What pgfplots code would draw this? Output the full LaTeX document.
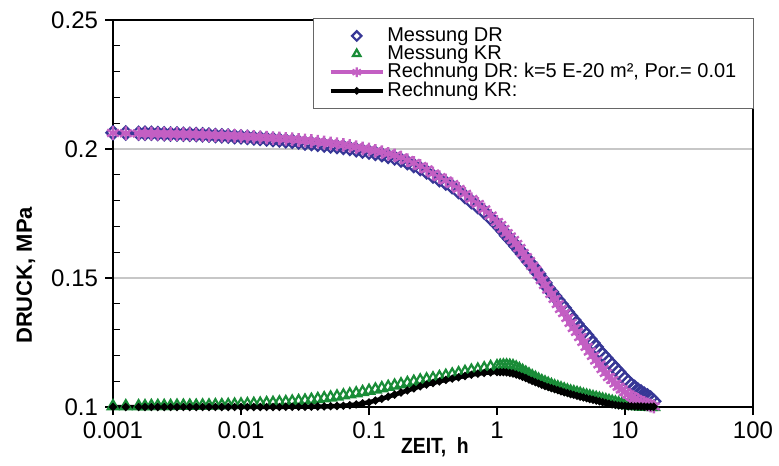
\documentclass[border=0pt]{standalone}
\usepackage{fontspec}
\setmainfont{Liberation Sans}
\usepackage{graphicx}
\usepackage{pgfplots}
\usepackage{pgfplotstable}
\pgfplotsset{compat=1.18}
\definecolor{mdr}{RGB}{55,55,150}
\definecolor{mkr}{RGB}{25,140,55}
\definecolor{rdr}{RGB}{195,95,195}
\pgfplotstableread{
t dr kr rdr rkr
0.001 0.2063 0.1003 0.2062 0.1000
1.2589e-3 0.2062 0.1003 0.2061 0.1000
1.5849e-3 0.2061 0.1003 0.2060 0.1000
1.7783e-3 0.2061 0.1003 0.2060 0.1000
1.9953e-3 0.2061 0.1004 0.2060 0.1000
2.2387e-3 0.2060 0.1004 0.2059 0.1000
2.5119e-3 0.2059 0.1004 0.2059 0.1000
2.8184e-3 0.2058 0.1004 0.2058 0.1000
3.1623e-3 0.2058 0.1005 0.2058 0.1000
3.5481e-3 0.2057 0.1005 0.2057 0.1000
3.9811e-3 0.2057 0.1005 0.2057 0.1000
4.4668e-3 0.2056 0.1005 0.2056 0.1000
5.0119e-3 0.2055 0.1006 0.2055 0.1000
5.6234e-3 0.2054 0.1006 0.2054 0.1000
6.3096e-3 0.2052 0.1007 0.2053 0.1000
7.0795e-3 0.2051 0.1007 0.2052 0.1000
7.9433e-3 0.2050 0.1008 0.2052 0.1000
8.9125e-3 0.2048 0.1009 0.2051 0.1000
0.01 0.2047 0.1010 0.2050 0.1000
1.1220e-2 0.2045 0.1011 0.2048 0.1000
1.2589e-2 0.2043 0.1012 0.2047 0.1000
1.4125e-2 0.2041 0.1013 0.2045 0.1000
1.5849e-2 0.2039 0.1015 0.2044 0.1000
1.7783e-2 0.2037 0.1016 0.2042 0.1000
1.9953e-2 0.2035 0.1018 0.2041 0.1000
2.2387e-2 0.2032 0.1019 0.2039 0.1001
2.5119e-2 0.2030 0.1021 0.2038 0.1001
2.8184e-2 0.2027 0.1023 0.2035 0.1001
3.1623e-2 0.2023 0.1025 0.2033 0.1001
3.5481e-2 0.2021 0.1028 0.2031 0.1001
3.9811e-2 0.2018 0.1031 0.2028 0.1002
4.4668e-2 0.2015 0.1034 0.2025 0.1002
5.0119e-2 0.2012 0.1037 0.2022 0.1003
5.6234e-2 0.2009 0.1041 0.2019 0.1004
6.3096e-2 0.2006 0.1045 0.2016 0.1005
7.0795e-2 0.2002 0.1049 0.2012 0.1007
7.9433e-2 0.1997 0.1053 0.2007 0.1010
8.9125e-2 0.1992 0.1058 0.2002 0.1014
0.1 0.1988 0.1063 0.1998 0.1018
0.11220 0.1983 0.1068 0.1993 0.1025
0.12589 0.1978 0.1073 0.1988 0.1032
0.14125 0.1971 0.1078 0.1981 0.1040
0.15849 0.1965 0.1083 0.1975 0.1048
0.17783 0.1957 0.1088 0.1967 0.1056
0.19953 0.1947 0.1093 0.1957 0.1064
0.22387 0.1936 0.1098 0.1946 0.1072
0.25119 0.1924 0.1103 0.1934 0.1080
0.28184 0.1911 0.1107 0.1921 0.1087
0.31623 0.1895 0.1111 0.1905 0.1093
0.35481 0.1881 0.1116 0.1891 0.1099
0.39811 0.1868 0.1121 0.1878 0.1105
0.44668 0.1854 0.1126 0.1864 0.1110
0.50119 0.1835 0.1131 0.1845 0.1115
0.56234 0.1816 0.1136 0.1826 0.1120
0.63096 0.1796 0.1141 0.1806 0.1125
0.70795 0.1777 0.1145 0.1787 0.1129
0.79433 0.1756 0.1150 0.1766 0.1132
0.89125 0.1732 0.1155 0.1742 0.1134
1 0.1707 0.1158 0.1717 0.1135
1.0593 0.1695 0.1160 0.1705 0.1135
1.1220 0.1680 0.1161 0.1690 0.1135
1.1885 0.1664 0.1161 0.1674 0.1134
1.2589 0.1651 0.1160 0.1661 0.1132
1.3335 0.1637 0.1158 0.1647 0.1130
1.4125 0.1622 0.1153 0.1632 0.1126
1.4962 0.1608 0.1147 0.1616 0.1122
1.5849 0.1592 0.1140 0.1597 0.1117
1.6788 0.1579 0.1133 0.1581 0.1112
1.7783 0.1562 0.1126 0.1566 0.1106
1.8836 0.1548 0.1119 0.1547 0.1101
1.9953 0.1533 0.1113 0.1531 0.1096
2.1135 0.1516 0.1106 0.1512 0.1091
2.2387 0.1498 0.1100 0.1492 0.1086
2.3714 0.1481 0.1095 0.1473 0.1081
2.5119 0.1461 0.1090 0.1455 0.1077
2.6607 0.1446 0.1085 0.1438 0.1073
2.8184 0.1430 0.1080 0.1419 0.1069
2.9854 0.1415 0.1076 0.1399 0.1065
3.1623 0.1399 0.1072 0.1380 0.1061
3.3497 0.1384 0.1068 0.1364 0.1057
3.5481 0.1368 0.1064 0.1345 0.1054
3.7584 0.1353 0.1060 0.1326 0.1050
3.9811 0.1337 0.1057 0.1306 0.1047
4.2170 0.1322 0.1054 0.1291 0.1043
4.4668 0.1306 0.1051 0.1271 0.1040
4.7315 0.1293 0.1047 0.1252 0.1037
5.0119 0.1279 0.1044 0.1233 0.1034
5.3088 0.1264 0.1041 0.1215 0.1031
5.6234 0.1248 0.1038 0.1198 0.1028
5.9566 0.1233 0.1035 0.1180 0.1025
6.3096 0.1217 0.1032 0.1165 0.1022
6.6834 0.1203 0.1029 0.1147 0.1019
7.0795 0.1190 0.1026 0.1132 0.1016
7.4989 0.1176 0.1023 0.1116 0.1013
7.9433 0.1163 0.1020 0.1105 0.1010
8.4140 0.1149 0.1017 0.1091 0.1008
8.9125 0.1136 0.1014 0.1079 0.1006
9.4406 0.1122 0.1011 0.1068 0.1005
10 0.1109 0.1009 0.1058 0.1004
10.593 0.1097 0.1007 0.1048 0.1003
11.220 0.1085 0.1005 0.1041 0.1003
11.885 0.1076 0.1004 0.1033 0.1002
12.589 0.1066 0.1003 0.1027 0.1002
13.335 0.1058 0.1002 0.1021 0.1002
14.125 0.1050 0.1001 0.1016 0.1001
14.962 0.1043 0.1001 0.1010 0.1001
15.849 0.1035 0.1000 0.1006 0.1001
16.788 0.1022 0.1000 0.1002 0.1001
}\data

\begin{document}
\begin{tikzpicture}
\path[use as bounding box] (-56.5pt,-29pt) rectangle (333pt,203.5pt);
\begin{axis}[
  scale only axis, width=320pt, height=193.5pt,
  xmode=log, xmin=0.001, xmax=100, ymin=0.1, ymax=0.25,
  xtick={0.001,0.01,0.1,1,10,100},
  xticklabels={0.001,0.01,0.1,1,10,100},
  ytick={0.1,0.15,0.2,0.25},
  yticklabels={0.1,0.15,0.2,0.25},
  minor ytick={0.11,0.12,0.13,0.14,0.16,0.17,0.18,0.19,0.21,0.22,0.23,0.24},
  minor x tick style={draw=none},
  tick pos=left, tick align=outside,
  major tick length=4pt, minor tick length=3.5pt,
  minor y tick style={xshift=3.5pt},
  tick style={black, line width=0.6pt},
  ymajorgrids, major grid style={black!22, line width=0.6pt},
  axis line style={line width=0.9pt},
  ticklabel style={font=\fontsize{12}{14}\selectfont},
  /pgf/number format/assume math mode=true,
  xlabel={\scalebox{0.88}[1]{\fontsize{11}{13}\selectfont\bfseries ZEIT,\ \ h}},
  xlabel style={at={(axis description cs:0.503,0)}, anchor=center, yshift=-20pt},
  ylabel={\fontsize{11}{13}\selectfont\bfseries DRUCK, MPa},
  ylabel style={at={(axis description cs:-0.136,0.34)}, anchor=center},
  clip=false,
  legend cell align=left,
  legend style={at={(axis description cs:1.002,1.005)}, anchor=north east,
    draw=black!60, line width=0.5pt, fill=white,
    font=\fontsize{10}{12}\selectfont,
    inner xsep=7.5pt, inner ysep=4.2pt, row sep=0pt,
    nodes={inner xsep=1.2pt, inner ysep=0.3pt}},
  legend image code/.code={\draw[mark repeat=2,mark phase=2,#1,every mark/.append style={scale=0.72}] plot coordinates {(0pt,0pt)(13pt,0pt)(26pt,0pt)};},
]
\addplot[only marks, color=mdr, mark=square, mark size=2.3pt, mark options={rotate=45, line width=1.1pt}]
  table[x=t, y=dr] {\data};
\addlegendentry{Messung DR}
\addplot[only marks, color=mkr, mark=triangle, mark size=3pt, mark options={line width=1.1pt}]
  table[x=t, y=kr] {\data};
\addlegendentry{Messung KR}
\addplot[color=rdr, line width=2pt, mark=asterisk, mark size=3.4pt, mark options={line width=1.2pt}]
  table[x=t, y=rdr] {\data};
\addlegendentry{Rechnung DR: k=5 E-20 m², Por.= 0.01}
\addplot[color=black, line width=2.2pt, mark=*, mark size=0.6pt]
  table[x=t, y=rkr] {\data};
\addlegendentry{Rechnung KR:}
\end{axis}
\end{tikzpicture}
\end{document}
